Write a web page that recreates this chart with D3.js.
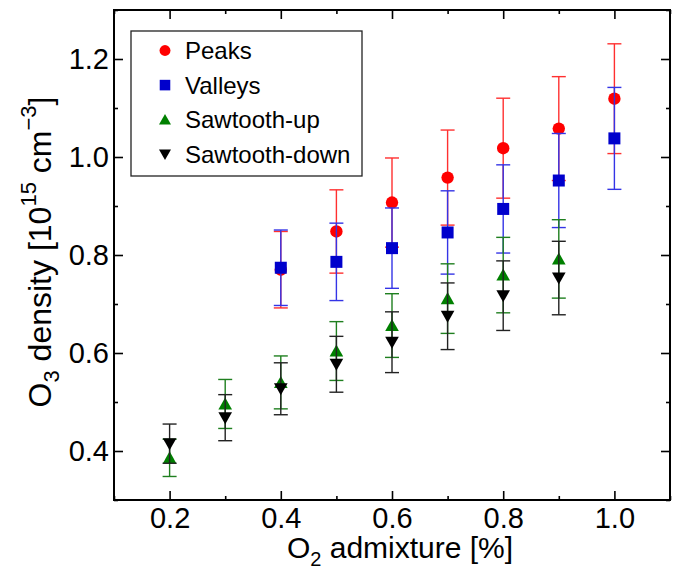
<!DOCTYPE html>
<html>
<head>
<meta charset="utf-8">
<script src="https://cdn.jsdelivr.net/npm/d3@7.9.0/dist/d3.min.js"></script>
<style>
  body { margin: 0; background: #fff; }
  svg { display: block; font-family: "Liberation Sans", Arial, sans-serif; }
</style>
</head>
<body>
<svg id="chart" width="677" height="571"></svg>
<script>
// O2 admixture [%]
const xAdmix = [0.2, 0.3, 0.4, 0.5, 0.6, 0.7, 0.8, 0.9, 1.0];

const peaksX = [0.4, 0.5, 0.6, 0.7, 0.8, 0.9, 1.0];
const peaksY = [0.770, 0.848, 0.907, 0.958, 1.018, 1.058, 1.119];
const peaksErr = [0.078, 0.085, 0.091, 0.097, 0.102, 0.106, 0.112];

const valleysX = [0.4, 0.5, 0.6, 0.7, 0.8, 0.9, 1.0];
const valleysY = [0.774, 0.786, 0.814, 0.846, 0.894, 0.952, 1.038];
const valleysErr = [0.077, 0.079, 0.082, 0.085, 0.090, 0.096, 0.104];

const upX = [0.2, 0.3, 0.4, 0.5, 0.6, 0.7, 0.8, 0.9];
const upY = [0.386, 0.496, 0.540, 0.604, 0.656, 0.711, 0.759, 0.792];
const upErr = [0.038, 0.050, 0.054, 0.060, 0.065, 0.071, 0.077, 0.080];

const downX = [0.2, 0.3, 0.4, 0.5, 0.6, 0.7, 0.8, 0.9];
const downY = [0.415, 0.468, 0.527, 0.577, 0.622, 0.675, 0.717, 0.753];
const downErr = [0.040, 0.047, 0.053, 0.057, 0.062, 0.068, 0.071, 0.075];

const xTicks = [0.2, 0.4, 0.6, 0.8, 1.0];
const xMinor = [0.1, 0.3, 0.5, 0.7, 0.9, 1.1];
const yTicks = [0.4, 0.6, 0.8, 1.0, 1.2];
const yMinor = [0.3, 0.5, 0.7, 0.9, 1.1, 1.3];

const seriesNames = ['Peaks', 'Valleys', 'Sawtooth-up', 'Sawtooth-down'];

// marker shape paths, centred on 0,0
const shapes = {
  circle: r => `M${-r},0a${r},${r} 0 1,0 ${2 * r},0a${r},${r} 0 1,0 ${-2 * r},0Z`,
  square: r => `M${-r},${-r}h${2 * r}v${2 * r}h${-2 * r}Z`,
  up: r => `M0,${-r}L${r * 1.05},${r * 0.85}L${-r * 1.05},${r * 0.85}Z`,
  down: r => `M0,${r}L${r * 1.05},${-r * 0.85}L${-r * 1.05},${-r * 0.85}Z`
};

const series = [
  { name: seriesNames[0], xs: peaksX, ys: peaksY, err: peaksErr, color: '#ff0000', bar: '#ff3030', shape: 'circle', r: 6.2 },
  { name: seriesNames[1], xs: valleysX, ys: valleysY, err: valleysErr, color: '#0000cc', bar: '#3434e6', shape: 'square', r: 6 },
  { name: seriesNames[2], xs: upX, ys: upY, err: upErr, color: '#008000', bar: '#1f7f1f', shape: 'up', r: 6.5 },
  { name: seriesNames[3], xs: downX, ys: downY, err: downErr, color: '#000000', bar: '#222222', shape: 'down', r: 6.5 }
];

const plotL = 114, plotR = 670, plotT = 10, plotB = 500;

const x = d3.scaleLinear().domain([0.1, 1.1]).range([plotL, plotR]);
const y = d3.scaleLinear().domain([0.3, 1.3]).range([plotB, plotT]);

const svg = d3.select('#chart');

// ticks on all four sides, pointing inward
function addAxis(gen, tr, labels) {
  const g = svg.append('g').attr('transform', tr).call(gen);
  g.select('.domain').remove();
  g.selectAll('line').attr('stroke', '#000').attr('stroke-width', 1.6);
  g.selectAll('text').attr('fill', '#000').style('font-size', '29px');
  if (!labels) g.selectAll('text').remove();
  return g;
}
addAxis(d3.axisBottom(x).tickValues(xTicks).tickSize(-9).tickPadding(7).tickFormat(d3.format('.1f')), `translate(0,${plotB})`, true);
addAxis(d3.axisBottom(x).tickValues(xMinor).tickSize(-4).tickFormat(''), `translate(0,${plotB})`, false);
addAxis(d3.axisTop(x).tickValues(xTicks).tickSize(-9), `translate(0,${plotT})`, false);
addAxis(d3.axisTop(x).tickValues(xMinor).tickSize(-4), `translate(0,${plotT})`, false);
addAxis(d3.axisLeft(y).tickValues(yTicks).tickSize(-9).tickPadding(5).tickFormat(d3.format('.1f')), `translate(${plotL},0)`, true);
addAxis(d3.axisLeft(y).tickValues(yMinor).tickSize(-4).tickFormat(''), `translate(${plotL},0)`, false);
addAxis(d3.axisRight(y).tickValues(yTicks).tickSize(-9), `translate(${plotR},0)`, false);
addAxis(d3.axisRight(y).tickValues(yMinor).tickSize(-4), `translate(${plotR},0)`, false);

svg.append('rect')
  .attr('x', plotL).attr('y', plotT)
  .attr('width', plotR - plotL).attr('height', plotB - plotT)
  .attr('fill', 'none').attr('stroke', '#000').attr('stroke-width', 2);

// error bars and markers
const cap = 7;
series.forEach(s => {
  const pts = s.xs.map((xv, i) => ({ x: xv, y: s.ys[i], e: s.err[i] }));
  const g = svg.append('g');
  const bars = g.selectAll('g.bar').data(pts).enter().append('g')
    .attr('stroke', s.bar).attr('stroke-width', 1.4);
  bars.append('line')
    .attr('x1', d => x(d.x)).attr('x2', d => x(d.x))
    .attr('y1', d => y(d.y - d.e)).attr('y2', d => y(d.y + d.e));
  [-1, 1].forEach(k => {
    bars.append('line')
      .attr('x1', d => x(d.x) - cap).attr('x2', d => x(d.x) + cap)
      .attr('y1', d => y(d.y + k * d.e)).attr('y2', d => y(d.y + k * d.e));
  });
  g.selectAll('path').data(pts).enter().append('path')
    .attr('transform', d => `translate(${x(d.x)},${y(d.y)})`)
    .attr('d', shapes[s.shape](s.r))
    .attr('fill', s.color);
});

// legend
const leg = svg.append('g');
leg.append('rect')
  .attr('x', 131).attr('y', 31).attr('width', 231).attr('height', 145)
  .attr('fill', '#fff').attr('stroke', '#222').attr('stroke-width', 1.3);
series.forEach((s, i) => {
  const cy = 50.5 + i * 34.6;
  leg.append('path')
    .attr('transform', `translate(165,${cy})`)
    .attr('d', shapes[s.shape](s.r * 0.88))
    .attr('fill', s.color);
  leg.append('text')
    .attr('x', 185).attr('y', cy + 8.5)
    .style('font-size', '24px')
    .text(s.name);
});

// axis titles
const xt = svg.append('text')
  .attr('x', 400).attr('y', 558)
  .attr('text-anchor', 'middle')
  .style('font-size', '30px');
xt.append('tspan').text('O');
xt.append('tspan').attr('dy', 8).style('font-size', '20px').text('2');
xt.append('tspan').attr('dy', -8).text(' admixture [%]');

const yt = svg.append('text')
  .attr('transform', 'translate(51,252) rotate(-90)')
  .attr('text-anchor', 'middle')
  .style('font-size', '32px');
yt.append('tspan').text('O');
yt.append('tspan').attr('dy', 8).style('font-size', '22px').text('3');
yt.append('tspan').attr('dy', -8).text(' density [10');
yt.append('tspan').attr('dy', -15).style('font-size', '22px').text('15');
yt.append('tspan').attr('dy', 15).text(' cm');
yt.append('tspan').attr('dy', -15).style('font-size', '22px').text('−3');
yt.append('tspan').attr('dy', 15).text(']');
</script>
</body>
</html>
